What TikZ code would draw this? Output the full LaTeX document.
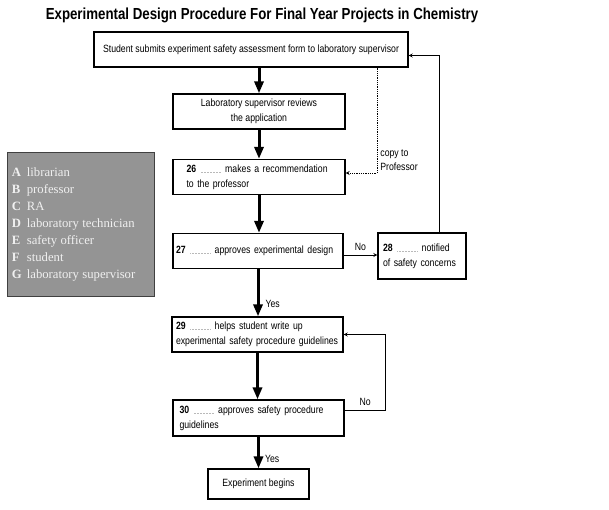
\documentclass[tikz,border=0pt]{standalone}
\usepackage{fontspec}
\setmainfont{Liberation Sans}[FakeStretch=0.83]
\newfontfamily\legendfont{Liberation Serif}
\usetikzlibrary{arrows.meta}
\newcommand\gap{\textcolor{gray!55}{\leaders\hbox to 1.5pt{\hss\rule{0.5pt}{0.5pt}\hss}\hskip 22pt}}
\begin{document}
\begin{tikzpicture}[>=stealth,x=1pt,y=-1pt,
	stepbox/.style={draw,line width=1.2pt,minimum height=35pt,font=\fontsize{10.5}{15}\selectfont},
	bigarrow/.style={line width=3pt,-{Triangle[length=12pt,width=9pt]}},
	thinarrow/.style={line width=0.8pt,->},
	tag/.style={font=\fontsize{10.5}{14}\selectfont,inner sep=1pt}]
		\useasboundingbox (0,0) rectangle (609,509);
		\node (title) at (262,15) {\fontsize{16}{18}\selectfont\bfseries Experimental Design Procedure For Final Year Projects in Chemistry};
		\node[stepbox,minimum width=314pt] (submit) at (251,49.5) {Student submits experiment safety assessment form to laboratory supervisor};
		\node[stepbox,minimum width=172pt,align=center] (review) at (259,111.5) {Laboratory supervisor reviews\\the application};
		\node[stepbox,text width=145pt,inner xsep=13.5pt,align=left] (recommend) at (259,177) {\textbf{26} \gap{} makes a recommendation\\to the professor};
		\node[stepbox,text width=164pt,inner xsep=3pt,align=left] (approve) at (258,251) {\textbf{27} \gap{} approves experimental design};
		\node[stepbox,text width=78pt,inner xsep=5pt,minimum height=46pt,align=left] (notify) at (422,256) {\textbf{28} \gap{} notified\\of safety concerns};
		\node[stepbox,text width=163pt,inner xsep=4pt,align=left] (helps) at (257.5,334.5) {\textbf{29} \gap{} helps student write up\\experimental safety procedure guidelines};
		\node[stepbox,text width=158pt,inner xsep=6.5pt,minimum height=36pt,align=left] (guide) at (258.5,418) {\textbf{30} \gap{} approves safety procedure\\guidelines};
		\node[stepbox,minimum width=101pt,minimum height=30pt] (begins) at (258.5,484) {Experiment begins};
		\node[draw=black!75,fill=black!42,text=black!6,minimum width=147pt,minimum height=144pt,text width=137pt,inner xsep=5pt,align=left] (roles) at (80.5,224) {\legendfont\fontsize{12.7}{14.5}\selectfont\def\arraystretch{1.17}\begin{tabular}{@{}l@{\hspace{5pt}}l@{}}
			\textbf{A} & librarian\\ \textbf{B} & professor\\ \textbf{C} & RA\\ \textbf{D} & laboratory technician\\
			\textbf{E} & safety officer\\ \textbf{F} & student\\ \textbf{G} & laboratory supervisor\end{tabular}};
		\draw[bigarrow] (review.north |- submit.south) -- (review.north);
		\draw[bigarrow] (review.south) -- (recommend.north);
		\draw[bigarrow] (recommend.south) -- (recommend.south |- approve.north);
		\draw[bigarrow] (approve.south) -- (approve.south |- helps.north) node[tag,pos=0.73,right=5pt] {Yes};
		\draw[bigarrow] (helps.south) -- (helps.south |- guide.north);
		\draw[bigarrow] (guide.south) -- (begins.north) node[tag,pos=0.7,right=4pt] {Yes};
		\draw[thinarrow] ([yshift=-4pt]approve.east) -- ([yshift=-4pt]approve.east -| notify.west) node[tag,midway,above=3pt] {No};
		\draw[thinarrow] ([xshift=17pt]notify.north) |- ([yshift=-6pt]submit.east);
		\draw[thinarrow,densely dotted] ([xshift=126pt]submit.south) |- ([yshift=4pt]recommend.east) node[tag,pos=0.5,anchor=south west,xshift=2pt,yshift=1pt,align=left] {copy to\\Professor};
		\draw[thinarrow] ([yshift=8pt]guide.east) -- ++(41,0) node[tag,midway,above=3pt] {No} |- (helps.east);
		\end{tikzpicture}
\end{document}
